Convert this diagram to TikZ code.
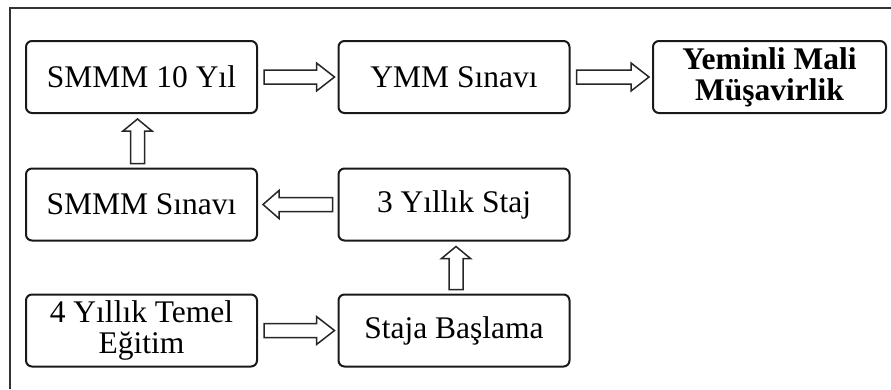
\documentclass[tikz,border=0pt]{standalone}
\usepackage{fontspec}
\setmainfont{Liberation Serif}
\usetikzlibrary{calc}
\tikzset{
  stepbox/.style={draw=black!90, line width=2pt, rounded corners=6pt,
    minimum width=231pt, minimum height=72pt, inner sep=2pt,
    align=center, font=\fontsize{31.5}{32}\selectfont},
  blk/.style={draw=black!85, line width=1.5pt, fill=white, line join=miter},
  frameline/.style={draw=black!80, line width=1.8pt}
}
% block arrow pointing right, from the east side of #1 to the west side of #2
\newcommand\blkright[2]{%
  \draw[blk] ($(#1.east)+(6,-7)$) -- ($(#2.west)+(-21,-7)$) -- ($(#2.west)+(-21,-14)$)
    -- ($(#2.west)+(-3,0)$) -- ($(#2.west)+(-21,14)$) -- ($(#2.west)+(-21,7)$)
    -- ($(#1.east)+(6,7)$) -- cycle;}
% block arrow pointing left, from the west side of #1 to the east side of #2
\newcommand\blkleft[2]{%
  \draw[blk] ($(#1.west)+(-5,-7)$) -- ($(#2.east)+(21,-7)$) -- ($(#2.east)+(21,-14)$)
    -- ($(#2.east)+(5,0)$) -- ($(#2.east)+(21,14)$) -- ($(#2.east)+(21,7)$)
    -- ($(#1.west)+(-5,7)$) -- cycle;}
% block arrow pointing up, from the north side of #1 to the south side of #2, shifted by #3
\newcommand\blkup[3]{%
  \draw[blk] ($(#1.north)+(#3-7,-4)$) -- ($(#2.south)+(#3-7,17)$) -- ($(#2.south)+(#3-14.5,17)$)
    -- ($(#2.south)+(#3,5)$) -- ($(#2.south)+(#3+14.5,17)$) -- ($(#2.south)+(#3+7,17)$)
    -- ($(#1.north)+(#3+7,-4)$) -- cycle;}
\begin{document}
\begin{tikzpicture}[x=1pt,y=-1pt]
  \useasboundingbox (0,0) rectangle (891,389);
  % open frame around the chart
  \draw[frameline] (10,389) -- (10,8) -- (891,8);

  \node[stepbox] (smmm10) at (141.5,77) {SMMM 10 Yıl};
  \node[stepbox] (ymm)    at (454,77)   {YMM Sınavı};
  \node[stepbox, minimum width=233pt, font=\fontsize{31.5}{31}\selectfont\bfseries] (yeminli) at (769.5,77) {Yeminli Mali\\Müşavirlik};

  \node[stepbox] (smmms) at (141.5,204.5) {SMMM Sınavı};
  \node[stepbox] (staj)  at (454,204.5)   {3 Yıllık Staj};

  \node[stepbox, font=\fontsize{31.5}{31}\selectfont] (temel)  at (141.5,330.5) {4 Yıllık Temel\\Eğitim};
  \node[stepbox] (basla) at (454,330.5)   {Staja Başlama};

  \blkright{smmm10}{ymm}
  \blkright{ymm}{yeminli}
  \blkup{smmms}{smmm10}{-4}
  \blkleft{staj}{smmms}
  \blkright{temel}{basla}
  \blkup{basla}{staj}{2}
\end{tikzpicture}
\end{document}
